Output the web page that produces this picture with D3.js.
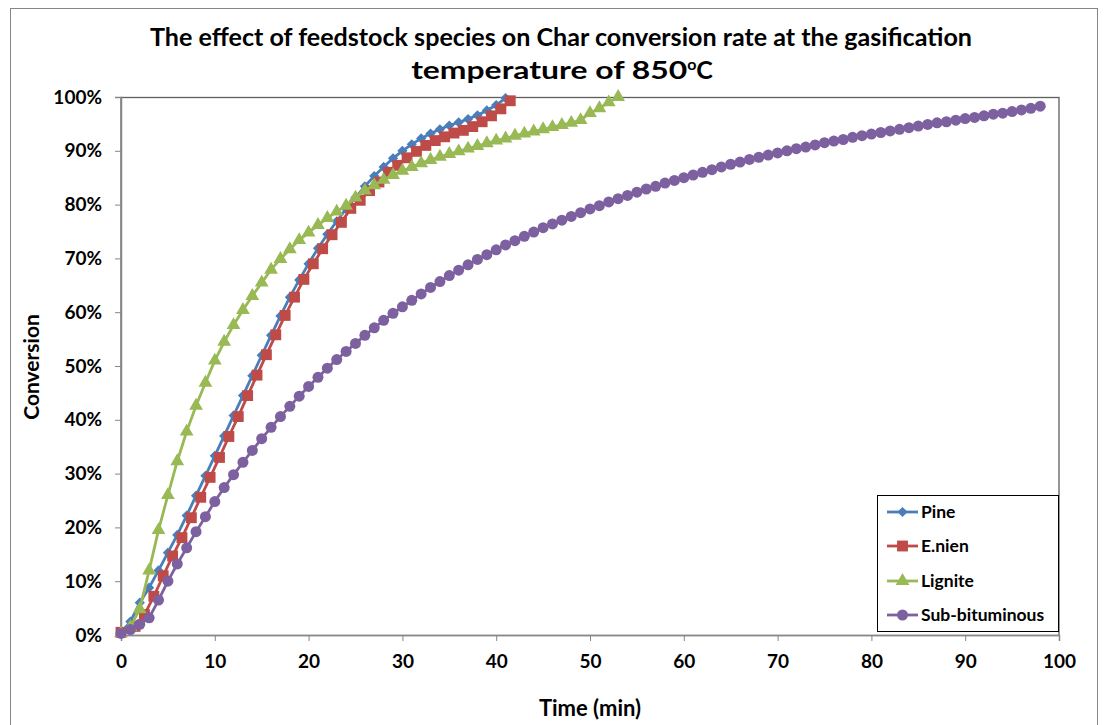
<!DOCTYPE html>
<html>
<head>
<meta charset="utf-8">
<script src="https://cdn.jsdelivr.net/npm/d3@7"></script>
<style>
  html, body { margin: 0; padding: 0; background: #fff; }
  svg text { font-family: Lato, "Open Sans", "Liberation Sans", sans-serif; font-weight: 700; fill: #000; }
</style>
</head>
<body>
<svg id="chart" width="1105" height="725"></svg>
<script>
// Char conversion (%) versus time (min) at 850 °C for four feedstocks
const pineTime = [0,1,2,3,4,5,6,7,8,9,10,11,12,13,14,15,16,17,18,19,20,21,22,23,24,25,26,27,28,29,30,31,32,33,34,35,36,37,38,39,40,41];
const pineConv = [0.5,2.5,6.0,8.8,12.0,15.3,18.6,22.2,25.9,29.6,33.3,37.0,40.8,44.5,48.2,52.0,55.7,59.3,62.8,66.0,69.0,71.9,74.5,76.9,79.2,81.3,83.4,85.3,87.0,88.6,90.0,91.2,92.3,93.2,94.0,94.7,95.3,95.9,96.6,97.5,98.5,99.8];

const enienTime = [0,1.5,2.5,3.5,4.5,5.5,6.5,7.5,8.5,9.5,10.5,11.5,12.5,13.5,14.5,15.5,16.5,17.5,18.5,19.5,20.5,21.5,22.5,23.5,24.5,25.5,26.5,27.5,28.5,29.5,30.5,31.5,32.5,33.5,34.5,35.5,36.5,37.5,38.5,39.5,40.5,41.5];
const enienConv = [0.5,1.6,3.8,7.2,11.0,14.7,18.1,21.8,25.6,29.3,33.0,36.9,40.6,44.5,48.3,52.1,55.8,59.4,62.8,66.1,69.0,71.8,74.4,76.7,79.3,80.8,82.6,84.2,86.0,87.3,88.7,89.9,91.0,91.9,92.6,93.3,93.8,94.5,95.4,96.5,97.8,99.3];

const ligniteTime = [0,1,2,3,4,5,6,7,8,9,10,11,12,13,14,15,16,17,18,19,20,21,22,23,24,25,26,27,28,29,30,31,32,33,34,35,36,37,38,39,40,41,42,43,44,45,46,47,48,49,50,51,52,53];
const ligniteConv = [0.3,1.5,4.8,12.0,19.5,26.0,32.3,37.8,42.6,46.9,51.0,54.5,57.6,60.4,63.0,65.5,67.9,69.9,71.7,73.4,74.8,76.2,77.5,78.7,79.8,81.3,82.6,83.6,84.6,85.5,86.3,87.0,87.7,88.3,88.9,89.4,89.9,90.4,90.9,91.4,91.9,92.3,92.8,93.2,93.6,94.0,94.4,94.8,95.2,95.7,97.0,97.9,99.0,100.0];

const subTime = [0,1,2,3,4,5,6,7,8,9,10,11,12,13,14,15,16,17,18,19,20,21,22,23,24,25,26,27,28,29,30,31,32,33,34,35,36,37,38,39,40,41,42,43,44,45,46,47,48,49,50,51,52,53,54,55,56,57,58,59,60,61,62,63,64,65,66,67,68,69,70,71,72,73,74,75,76,77,78,79,80,81,82,83,84,85,86,87,88,89,90,91,92,93,94,95,96,97,98];
const subConv = [0.3,1.0,2.0,3.2,6.5,10.0,13.2,16.2,19.2,22.0,24.8,27.4,29.8,32.1,34.3,36.5,38.6,40.6,42.5,44.4,46.2,47.9,49.6,51.2,52.7,54.2,55.7,57.1,58.5,59.8,61.0,62.2,63.4,64.6,65.7,66.8,67.8,68.8,69.8,70.7,71.6,72.5,73.3,74.1,74.9,75.7,76.4,77.1,77.8,78.5,79.2,79.8,80.5,81.1,81.7,82.3,82.9,83.4,84.0,84.5,85.0,85.5,86.0,86.5,87.0,87.5,87.9,88.4,88.8,89.2,89.6,90.0,90.4,90.7,91.1,91.5,91.8,92.1,92.5,92.8,93.1,93.4,93.7,94.0,94.3,94.6,94.9,95.2,95.4,95.7,96.0,96.2,96.5,96.8,97.0,97.3,97.6,97.9,98.3];

const seriesNames = ["Pine", "E.nien", "Lignite", "Sub-bituminous"];
const seriesColors = ["#4A7EBB", "#BE4B48", "#98B954", "#7D60A0"];
const xTicks = [0,10,20,30,40,50,60,70,80,90,100];
const yTicks = [0,10,20,30,40,50,60,70,80,90,100];

const series = [
  { name: seriesNames[0], color: seriesColors[0], t: pineTime, v: pineConv, shape: "diamond" },
  { name: seriesNames[1], color: seriesColors[1], t: enienTime, v: enienConv, shape: "square" },
  { name: seriesNames[2], color: seriesColors[2], t: ligniteTime, v: ligniteConv, shape: "triangle" },
  { name: seriesNames[3], color: seriesColors[3], t: subTime, v: subConv, shape: "circle" }
];

const svg = d3.select("#chart");
const plot = { left: 121, right: 1059, top: 97, bottom: 635 };

const x = d3.scaleLinear().domain([0, 100]).range([plot.left, plot.right]);
const y = d3.scaleLinear().domain([0, 100]).range([plot.bottom, plot.top]);

// outer chart frame
svg.append("rect")
  .attr("x", 10.5).attr("y", 8.5).attr("width", 1087).attr("height", 740)
  .attr("fill", "#fff").attr("stroke", "#868686").attr("stroke-width", 1);

// plot area frame
svg.append("rect")
  .attr("x", plot.left).attr("y", plot.top + 0.5)
  .attr("width", plot.right - plot.left).attr("height", plot.bottom - plot.top)
  .attr("fill", "none").attr("stroke", "#5f5f5f").attr("stroke-width", 1.3);

// axes
const xAxis = d3.axisBottom(x).tickValues(xTicks).tickSize(6).tickPadding(14).tickFormat(d3.format("d"));
const yAxis = d3.axisLeft(y).tickValues(yTicks).tickSize(6).tickPadding(13).tickFormat(d => d + "%");

const gx = svg.append("g").attr("transform", `translate(0,${plot.bottom})`).call(xAxis);
const gy = svg.append("g").attr("transform", `translate(${plot.left},0)`).call(yAxis);
[gx, gy].forEach(g => {
  g.select(".domain").attr("stroke", "#868686").attr("stroke-width", 1.5);
  g.selectAll(".tick line").attr("stroke", "#868686").attr("stroke-width", 1);
  g.selectAll(".tick text").style("font-family", "Lato, sans-serif").style("font-weight", 700)
    .style("font-size", "19px").attr("fill", "#000");
});

// lines + markers
const line = d3.line().x(d => x(d[0])).y(d => y(d[1]));

function markerPath(shape) {
  if (shape === "diamond") return d3.symbol().type(d3.symbolSquare).size(52)();
  if (shape === "square") return d3.symbol().type(d3.symbolSquare).size(118)();
  if (shape === "triangle") return d3.symbol().type(d3.symbolTriangle).size(82)();
  return d3.symbol().type(d3.symbolCircle).size(95)();
}

series.forEach(s => {
  const pts = s.t.map((t, i) => [t, s.v[i]]);
  const g = svg.append("g");
  g.append("path").datum(pts).attr("d", line)
    .attr("fill", "none").attr("stroke", s.color).attr("stroke-width", 2.8)
    .attr("stroke-linejoin", "round");
  g.selectAll("path.mk").data(pts).enter().append("path")
    .attr("class", "mk")
    .attr("d", markerPath(s.shape))
    .attr("transform", d => `translate(${x(d[0])},${y(d[1])})` + (s.shape === "diamond" ? " rotate(45)" : ""))
    .attr("fill", s.color);
});

// legend
const lg = svg.append("g");
lg.append("rect").attr("x", 877.5).attr("y", 495.5).attr("width", 181).attr("height", 136)
  .attr("fill", "#fff").attr("stroke", "#000").attr("stroke-width", 1);
const legendY = [512, 546, 581, 615];
series.forEach((s, i) => {
  const ly = legendY[i];
  lg.append("line").attr("x1", 887).attr("x2", 918).attr("y1", ly).attr("y2", ly)
    .attr("stroke", s.color).attr("stroke-width", 2.8);
  lg.append("path").attr("d", markerPath(s.shape))
    .attr("transform", `translate(902.5,${ly})` + (s.shape === "diamond" ? " rotate(45)" : ""))
    .attr("fill", s.color);
  lg.append("text").attr("x", 921).attr("y", ly + 6).style("font-size", "17.5px").text(s.name);
});

// titles
svg.append("text").attr("x", 561).attr("y", 46).attr("text-anchor", "middle").style("font-size", "25px")
  .attr("textLength", 822).attr("lengthAdjust", "spacingAndGlyphs")
  .text("The effect of feedstock species on Char conversion rate at the gasification");
const t2 = svg.append("text").attr("x", 562).attr("y", 79).attr("text-anchor", "middle").style("font-size", "25px");
t2.append("tspan").attr("textLength", 276).attr("lengthAdjust", "spacingAndGlyphs").text("temperature of 850");
t2.append("tspan").attr("dy", -9).style("font-size", "16px").text("o");
t2.append("tspan").attr("dy", 9).text("C");

svg.append("text").attr("x", 590).attr("y", 716).attr("text-anchor", "middle")
  .style("font-size", "22px").text("Time (min)");
svg.append("text").attr("transform", "translate(39,367) rotate(-90)").attr("text-anchor", "middle")
  .style("font-size", "21px").text("Conversion");
</script>
</body>
</html>
